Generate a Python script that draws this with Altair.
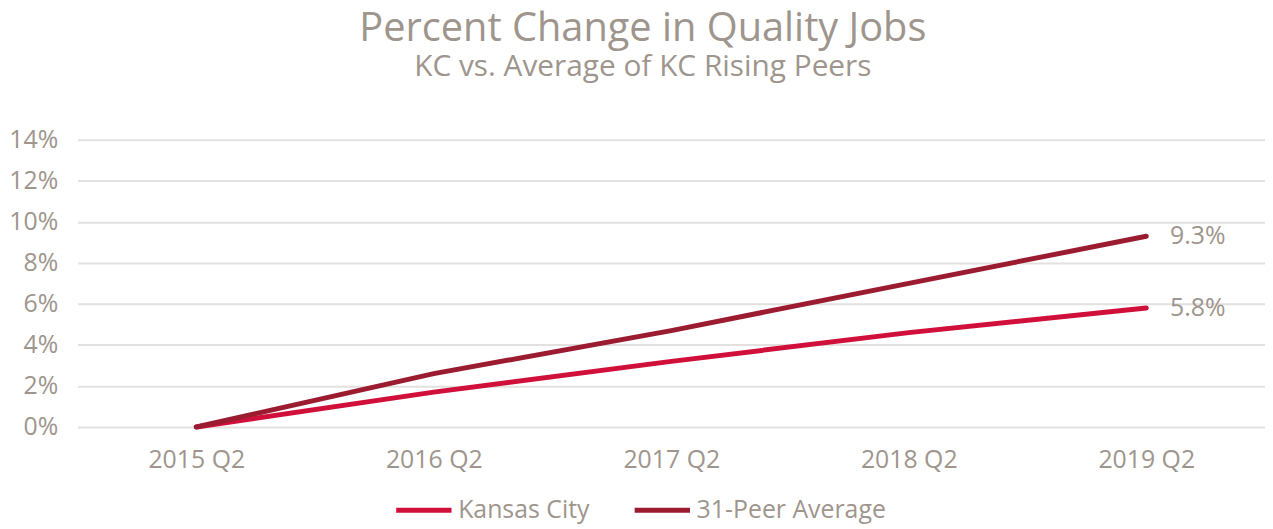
import altair as alt
import pandas as pd

quarters = ["2015 Q2", "2016 Q2", "2017 Q2", "2018 Q2", "2019 Q2"]
kc = [0.0, 1.7, 3.2, 4.6, 5.8]
peer = [0.0, 2.6, 4.7, 7.0, 9.3]
series_names = ["Kansas City", "31-Peer Average"]
colors = ["#d0103a", "#9b1b30"]

rows = []
for q, v in zip(quarters, kc):
    rows.append({"quarter": q, "value": v, "series": series_names[0]})
for q, v in zip(quarters, peer):
    rows.append({"quarter": q, "value": v, "series": series_names[1]})
df = pd.DataFrame(rows)
last = df[df["quarter"] == quarters[-1]].copy()
last["label"] = last["value"].map(lambda v: f"{v:.1f}%")

FONT = "Open Sans"
GRAY = "#9e958d"

x = alt.X("quarter:N", sort=quarters, title=None,
          scale=alt.Scale(padding=0.5),
          axis=alt.Axis(labelAngle=0, labelFontSize=25, labelColor=GRAY, labelFont=FONT,
                        domain=False, ticks=False, grid=False, labelPadding=21))
y = alt.Y("value:Q", title=None,
          scale=alt.Scale(domain=[0, 14]),
          axis=alt.Axis(values=[0, 2, 4, 6, 8, 10, 12, 14], labelExpr="datum.value + '%'",
                        labelFontSize=25, labelColor=GRAY, labelFont=FONT,
                        domain=False, ticks=False, gridColor="#e3e1df", gridWidth=2,
                        labelPadding=20))

color = alt.Color("series:N", sort=series_names,
                  scale=alt.Scale(domain=series_names, range=colors),
                  legend=alt.Legend(orient="none", direction="horizontal", title=None,
                                    legendX=318, legendY=342,
                                    symbolType="stroke",
                                    symbolStrokeWidth=5, symbolSize=3100,
                                    labelFontSize=25, labelColor=GRAY, labelFont=FONT,
                                    labelLimit=400, columnPadding=34, labelOffset=4))

lines = alt.Chart(df).mark_line(strokeWidth=5, strokeCap="round").encode(x=x, y=y, color=color)
labels = alt.Chart(last).mark_text(align="left", dx=24, fontSize=25, color=GRAY, font=FONT).encode(
    x=alt.X("quarter:N", sort=quarters, scale=alt.Scale(padding=0.5)),
    y="value:Q", text="label:N")

chart = (lines + labels).properties(
    width=1195, height=289, padding=0,
    title=alt.TitleParams("Percent Change in Quality Jobs",
                          subtitle="KC vs. Average of KC Rising Peers",
                          fontSize=40, subtitleFontSize=30, color=GRAY, subtitleColor=GRAY,
                          font=FONT, subtitleFont=FONT, fontWeight="normal",
                          anchor="middle", frame="bounds", dx=6, dy=3, offset=49,
                          subtitlePadding=3),
).configure_view(stroke=None)

chart.save("out.html", embed_options={"renderer": "svg", "actions": False})
